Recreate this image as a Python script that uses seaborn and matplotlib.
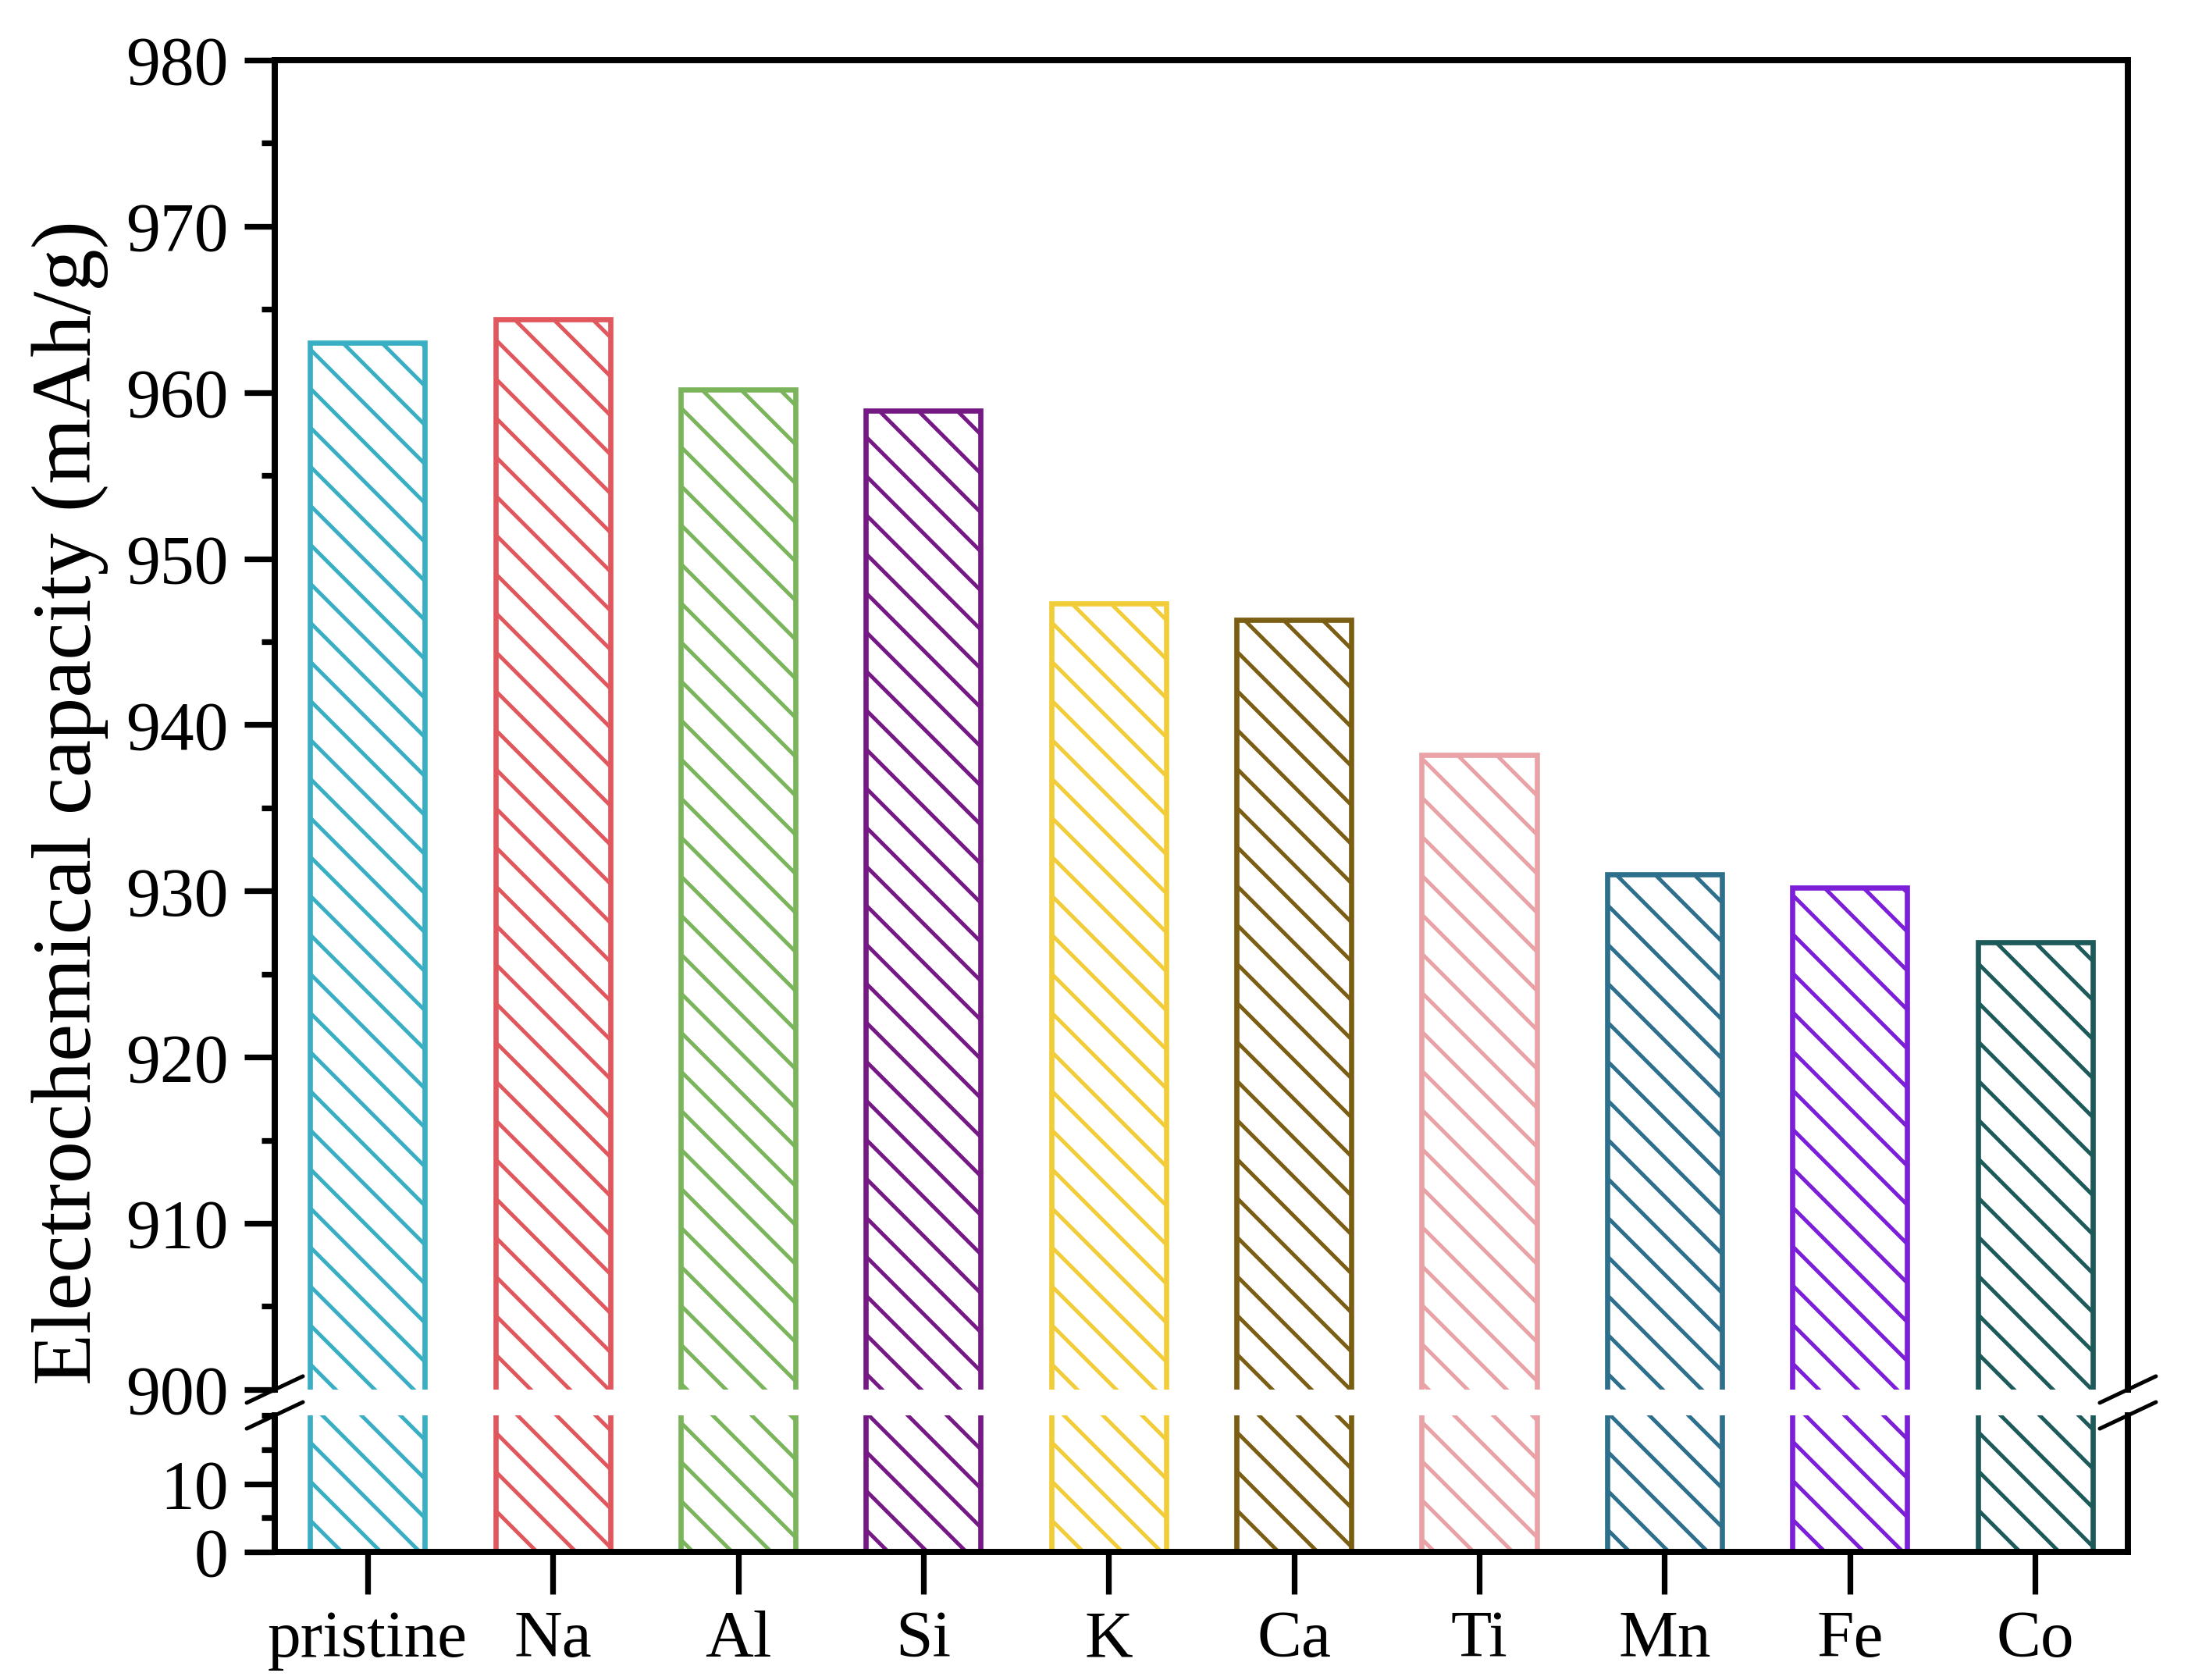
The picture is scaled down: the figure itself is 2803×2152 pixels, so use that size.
import matplotlib
matplotlib.use("Agg")
import pandas as pd
import matplotlib.pyplot as plt
import seaborn as sns
from matplotlib.ticker import MultipleLocator

categories = ["pristine", "Na", "Al", "Si", "K", "Ca", "Ti", "Mn", "Fe", "Co"]
capacity = [963.0, 964.4, 960.2, 958.9, 947.3, 946.3, 938.2, 931.0, 930.2, 926.9]
edge_colors = ["#3aafc4", "#e0585e", "#7ab55c", "#751a85", "#f2cd3a",
               "#7a5e14", "#e9a3a6", "#2e6f8c", "#7b1fd8", "#1f5a5a"]
upper_ticks = [900, 910, 920, 930, 940, 950, 960, 970, 980]
lower_ticks = [0, 10]

sns.set_theme(style="ticks")
plt.rcParams["font.family"] = ["Liberation Serif", "DejaVu Serif"]
plt.rcParams["hatch.linewidth"] = 2.4
plt.rcParams["axes.linewidth"] = 3.8

df = pd.DataFrame({"element": categories, "capacity": capacity})

fig = plt.figure(figsize=(2803 / 150, 2152 / 150), dpi=150)
ax_top = fig.add_axes([0.1256, 0.1729, 0.8469, 0.7913])
ax_bot = fig.add_axes([0.1256, 0.0762, 0.8469, 0.0813])

for ax in (ax_top, ax_bot):
    sns.barplot(data=df, x="element", y="capacity", hue="element",
                palette=edge_colors, width=0.62, saturation=1,
                legend=False, ax=ax)
    for patch, c in zip(ax.patches, edge_colors):
        patch.set_facecolor("white")
        patch.set_edgecolor(c)
        patch.set_linewidth(3.2)
        patch.set_hatch("\\")
        if hasattr(patch, "set_hatch_linewidth"):
            patch.set_hatch_linewidth(2.4)
    ax.set_xlim(-0.5, 9.5)
    ax.set_xlabel("")
    ax.set_ylabel("")
    for s in ax.spines.values():
        s.set_linewidth(3.8)
        s.set_color("black")
    ax.tick_params(axis="y", which="major", length=18.5, width=3.5,
                   labelsize=42, pad=10, colors="black")
    ax.tick_params(axis="y", which="minor", length=8, width=3.5, colors="black")

ax_top.set_ylim(900, 980)
ax_top.set_yticks(upper_ticks)
ax_top.yaxis.set_minor_locator(MultipleLocator(5))
ax_top.spines["bottom"].set_visible(False)
ax_top.tick_params(axis="x", bottom=False, labelbottom=False)

ax_bot.set_ylim(0, 20)
ax_bot.set_yticks(lower_ticks)
ax_bot.yaxis.set_minor_locator(MultipleLocator(5))
ax_bot.spines["top"].set_visible(False)
ax_bot.tick_params(axis="x", length=26, width=3.5, labelsize=41, pad=10,
                   colors="black")

# break marks
dx = 36 / 2374
dy_t = 17 / 1703
dy_b = 17 / 175
kw = dict(color="black", lw=2.4, clip_on=False)
for x0 in (0, 1):
    ax_top.plot([x0 - dx, x0 + dx], [-dy_t, dy_t], transform=ax_top.transAxes, **kw)
    ax_bot.plot([x0 - dx, x0 + dx], [1 - dy_b, 1 + dy_b], transform=ax_bot.transAxes, **kw)

fig.text(90 / 2803, 1 - 1028 / 2152, "Electrochemical capacity (mAh/g)",
         rotation=90, ha="center", va="center", fontsize=52, color="black")

fig.savefig("out.png", dpi=150, facecolor="white")
